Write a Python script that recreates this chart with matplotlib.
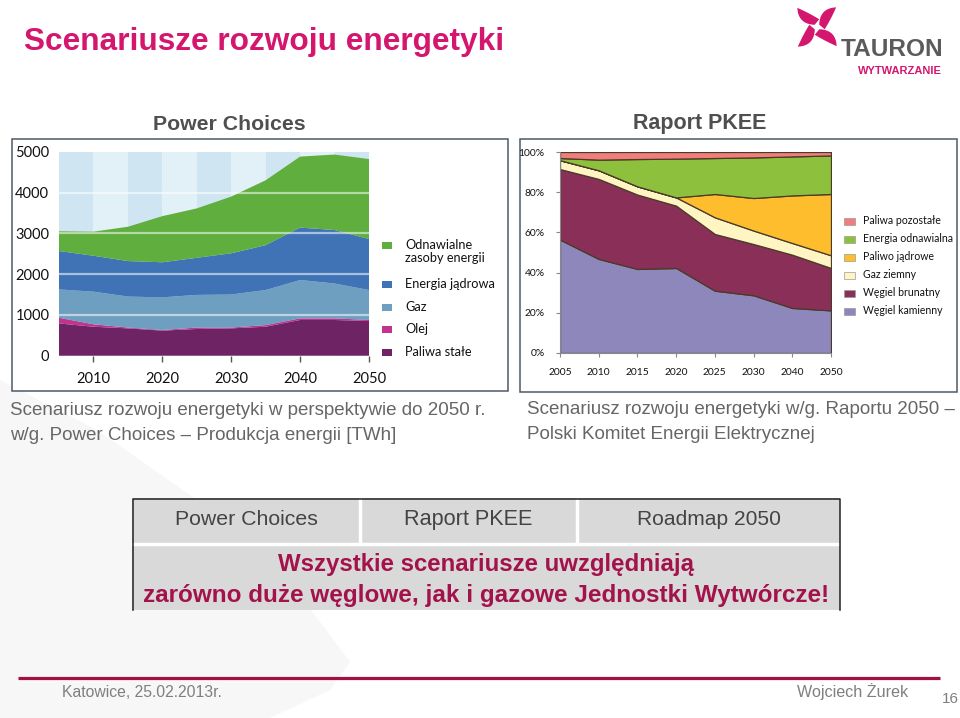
import numpy as np
import matplotlib
matplotlib.use('Agg')
import matplotlib.pyplot as plt
from matplotlib.patches import Rectangle, Polygon

# ---------------- data ----------------
pc_years = [2005, 2010, 2015, 2020, 2025, 2030, 2035, 2040, 2045, 2050]
pc_solid = [790, 710, 670, 615, 655, 670, 710, 875, 875, 850]
pc_oil = [140, 60, 20, 15, 35, 20, 40, 40, 40, 25]
pc_gas = [695, 800, 760, 800, 800, 810, 860, 940, 855, 735]
pc_nuclear = [940, 880, 870, 860, 910, 1010, 1100, 1285, 1310, 1250]
pc_renew = [485, 590, 840, 1130, 1210, 1390, 1590, 1740, 1850, 1960]
pc_labels = ['Odnawialne\nzasoby energii', 'Energia jądrowa', 'Gaz', 'Olej', 'Paliwa stałe']
pc_xticks = [2010, 2020, 2030, 2040, 2050]
pc_yticks = [0, 1000, 2000, 3000, 4000, 5000]

pk_years = ['2005', '2010', '2015', '2020', '2025', '2030', '2040', '2050']
pk_kamienny = [56.4, 46.8, 41.8, 42.3, 31.0, 28.7, 22.4, 21.2]
pk_brunatny = [35.1, 39.8, 37.0, 31.0, 28.2, 25.5, 26.5, 21.1]
pk_gaz = [4.4, 4.3, 4.1, 4.1, 8.3, 6.7, 5.8, 6.3]
pk_jadrowe = [0.0, 0.0, 0.0, 0.0, 11.6, 16.2, 23.7, 30.5]
pk_odnawialna = [1.1, 5.3, 13.6, 19.3, 17.9, 20.2, 19.4, 19.2]
pk_pozostale = [3.0, 3.8, 3.5, 3.3, 3.0, 2.7, 2.2, 1.7]
pk_labels = ['Paliwa pozostałe', 'Energia odnawialna', 'Paliwo jądrowe',
             'Gaz ziemny', 'Węgiel brunatny', 'Węgiel kamienny']
pk_yticks = [0, 20, 40, 60, 80, 100]

table_head = ['Power Choices', 'Raport PKEE', 'Roadmap 2050']
table_body = ['Wszystkie scenariusze uwzględniają',
              'zarówno duże węglowe, jak i gazowe Jednostki Wytwórcze!']

# ---------------- styles ----------------
W, H = 960, 718
ARIAL = ['Liberation Sans', 'DejaVu Sans']
NARROW = ['Liberation Sans Narrow', 'Liberation Sans', 'DejaVu Sans']
CAL = ['Lato', 'DejaVu Sans']
MAGENTA = '#D4166F'
pc_colors = ['#6E2464', '#C2338E', '#6E9FC0', '#3F73B6', '#5FAE3E']
pk_colors = ['#8E87BC', '#8A3058', '#FFF5C2', '#FDBD2D', '#8DC03C', '#F27E7C']

fig = plt.figure(figsize=(W / 100, H / 100), dpi=100)
fig.patch.set_facecolor('white')


def ax_px(x0, y0, x1, y1, z=2):
    return fig.add_axes([x0 / W, 1 - y1 / H, (x1 - x0) / W, (y1 - y0) / H], zorder=z)


ov = fig.add_axes([0, 0, 1, 1], zorder=0)
ov.set_xlim(0, W)
ov.set_ylim(H, 0)
ov.axis('off')

# faint watermark
ov.add_patch(Polygon([(0, 380), (12, 386), (100, 432), (200, 502), (290, 582), (350, 662),
                      (330, 690), (270, 718), (0, 718)], closed=True,
                     facecolor='#F7F7F7', edgecolor='none', zorder=0))

# ---------------- logo ----------------
def blade(cx, cy, ang, s):
    t = np.linspace(0, 1, 25)[:, None]
    P0 = np.array([0.05, 0.12]); P1 = np.array([-0.15, 0.75]); P2 = np.array([0.45, 1.0])
    Q1 = np.array([0.42, 0.5]); Q2 = np.array([0.32, 0.02])
    outer = (1 - t) ** 2 * P0 + 2 * (1 - t) * t * P1 + t ** 2 * P2
    inner = (1 - t) ** 2 * P2 + 2 * (1 - t) * t * Q1 + t ** 2 * Q2
    pts = np.vstack([outer, inner])
    a = np.deg2rad(ang)
    x = pts[:, 0] * np.cos(a) - pts[:, 1] * np.sin(a)
    y = pts[:, 0] * np.sin(a) + pts[:, 1] * np.cos(a)
    return np.column_stack([cx + s * x, cy - s * y])


for ang in (-20, 70, 160, 250):
    ov.add_patch(Polygon(blade(817, 27, ang, 25), closed=True, facecolor=MAGENTA,
                         edgecolor='none', zorder=2))

texts_fit = []
t = ov.text(841, 56, 'TAURON', family=ARIAL, weight='bold', color='#5B5B5B',
            fontsize=20, ha='left', va='baseline')
texts_fit.append((t, 102))
t = ov.text(858, 74, 'WYTWARZANIE', family=ARIAL, weight='bold', color=MAGENTA,
            fontsize=8, ha='left', va='baseline')
texts_fit.append((t, 84))

# ---------------- title & headings ----------------
t = ov.text(24, 50, 'Scenariusze rozwoju energetyki', family=ARIAL, weight='bold',
            color=MAGENTA, fontsize=20, ha='left', va='baseline')
texts_fit.append((t, 479))
t = ov.text(229, 129.5, 'Power Choices', family=ARIAL, weight='bold', color='#4F4F4F',
            fontsize=14, ha='center', va='baseline')
texts_fit.append((t, 152))
t = ov.text(700, 129.5, 'Raport PKEE', family=ARIAL, weight='bold', color='#4F4F4F',
            fontsize=14, ha='center', va='baseline')
texts_fit.append((t, 134))

# boxes
ov.add_patch(Rectangle((12, 139), 496, 252, facecolor='white', edgecolor='#4E5866', lw=1.1, zorder=1))
rbox = Rectangle((520, 139), 437, 253, facecolor='white', edgecolor='#4E5866', lw=1.1, zorder=1)
ov.add_patch(rbox)

# captions
cap_col = '#666666'
t = ov.text(10, 415, 'Scenariusz rozwoju energetyki w perspektywie do 2050 r.', family=ARIAL,
            color=cap_col, fontsize=13, ha='left', va='baseline')
texts_fit.append((t, 477))
t2 = ov.text(10, 440, 'w/g. Power Choices – Produkcja energii [TWh]', family=ARIAL,
             color=cap_col, fontsize=13, ha='left', va='baseline')
t = ov.text(527, 414, 'Scenariusz rozwoju energetyki w/g. Raportu 2050 –', family=ARIAL,
            color=cap_col, fontsize=13, ha='left', va='baseline')
texts_fit.append((t, 427))
t3 = ov.text(527, 439, 'Polski Komitet Energii Elektrycznej', family=ARIAL,
             color=cap_col, fontsize=13, ha='left', va='baseline')

# ---------------- left chart ----------------
axL = ax_px(59, 151.7, 369, 355.7)
axL.set_xlim(pc_years[0], pc_years[-1])
axL.set_ylim(0, 5000)
for i in range(len(pc_years) - 1):
    axL.axvspan(pc_years[i], pc_years[i + 1], color='#CFE5F1' if i % 2 == 0 else '#E2F0F8',
                lw=0, zorder=0)
axL.stackplot(pc_years, pc_solid, pc_oil, pc_gas, pc_nuclear, pc_renew,
              colors=pc_colors, lw=0, zorder=2)
for v in pc_yticks[1:-1]:
    axL.axhline(v, color='white', lw=1.6, alpha=0.55, zorder=3)
axL.set_xticks(pc_xticks)
axL.set_xticklabels([str(v) for v in pc_xticks])
axL.set_yticks(pc_yticks)
axL.set_yticklabels([str(v) for v in pc_yticks])
axL.tick_params(axis='x', length=4, width=1, color='#555555', pad=8, labelsize=10.5,
                labelcolor='#111111')
axL.tick_params(axis='y', length=0, pad=7, labelsize=10.5, labelcolor='#111111')
for lab in axL.get_xticklabels() + axL.get_yticklabels():
    lab.set_family(CAL)
for s in axL.spines.values():
    s.set_visible(False)

# left legend
leg_y = [245, 284, 307, 329, 352]
leg_cols = pc_colors[::-1]
for i, (lab, yy) in enumerate(zip(pc_labels, leg_y)):
    ov.add_patch(Rectangle((382, yy - 3.5), 10, 7, facecolor=leg_cols[i], edgecolor='none', zorder=2))
    ov.text(405, yy + 4, lab.split('\n')[0], family=CAL, fontsize=9.2, color='#111111',
            ha='left', va='baseline', zorder=2)
ov.text(405, leg_y[0] + 17, pc_labels[0].split('\n')[1], family=CAL, fontsize=9.2,
        color='#111111', ha='left', va='baseline', zorder=2)

# ---------------- right chart ----------------
axR = ax_px(560, 152, 831, 353)
xr = np.arange(len(pk_years))
axR.stackplot(xr, pk_kamienny, pk_brunatny, pk_gaz, pk_jadrowe, pk_odnawialna, pk_pozostale,
              colors=pk_colors, edgecolor='#4A3A28', lw=0.9, zorder=2)
axR.set_xlim(0, len(pk_years) - 1)
axR.set_ylim(0, 100)
axR.set_xticks(xr)
axR.set_xticklabels(pk_years)
axR.set_yticks(pk_yticks)
axR.set_yticklabels([f'{v}%' for v in pk_yticks])
axR.tick_params(axis='both', length=3, width=0.8, color='#888888', labelsize=7.4,
                labelcolor='#111111')
axR.tick_params(axis='y', pad=8)
axR.tick_params(axis='x', pad=8)
for lab in axR.get_xticklabels() + axR.get_yticklabels():
    lab.set_family(CAL)
for k in ('top', 'right'):
    axR.spines[k].set_visible(False)
for k in ('left', 'bottom'):
    axR.spines[k].set_color('#888888')
    axR.spines[k].set_linewidth(0.8)
axR.patch.set_alpha(0)

# right legend
rl_y = [221, 239, 257, 275, 293, 311]
rl_cols = pk_colors[::-1]
for lab, yy, c in zip(pk_labels, rl_y, rl_cols):
    ov.add_patch(Rectangle((844, yy - 3.5), 11, 7, facecolor=c, edgecolor='#9A9A9A', lw=0.5, zorder=2))
    tt = ov.text(863, yy + 3, lab, family=CAL, fontsize=7.6, color='#111111', ha='left',
                 va='baseline', zorder=2)
    tt.set_clip_path(rbox)

# ---------------- table ----------------
tab_x = [132, 360, 577, 840]
ov.add_patch(Rectangle((132, 498), 708, 112, facecolor='#D9D9D9', edgecolor='none', zorder=1))
ov.plot([132, 840], [543.5, 543.5], color='white', lw=2.5, zorder=2)
for xx in tab_x[1:-1]:
    ov.plot([xx, xx], [498, 543], color='white', lw=2.5, zorder=2)
ov.plot([132.5, 132.5, 839.5, 839.5], [610, 498.5, 498.5, 610], color='#222222', lw=1.1, zorder=3)
head_w = [144, 129, 145]
for i, (lab, w) in enumerate(zip(table_head, head_w)):
    t = ov.text((tab_x[i] + tab_x[i + 1]) / 2, 525, lab, family=ARIAL, fontsize=14,
                color='#444444', ha='center', va='baseline', zorder=3)
    texts_fit.append((t, w))
t = ov.text(486, 571, table_body[0], family=ARIAL, weight='bold', fontsize=15,
            color='#A3124A', ha='center', va='baseline', zorder=3)
texts_fit.append((t, 418))
t = ov.text(486, 602, table_body[1], family=ARIAL, weight='bold', fontsize=15,
            color='#A3124A', ha='center', va='baseline', zorder=3)
texts_fit.append((t, 688))

# ---------------- footer ----------------
ov.plot([18, 940], [678, 678], color='#A3123F', lw=2.3, solid_capstyle='butt', zorder=2)
t = ov.text(62, 697, 'Katowice, 25.02.2013r.', family=NARROW, fontsize=11, color='#7F7F7F',
            ha='left', va='baseline')
texts_fit.append((t, 160))
t = ov.text(908, 697, 'Wojciech Żurek', family=NARROW, fontsize=11, color='#7F7F7F',
            ha='right', va='baseline')
texts_fit.append((t, 111))
ov.text(950, 703, '16', family=NARROW, fontsize=11, color='#7F7F7F', ha='center', va='baseline')

# ---------------- fit text widths ----------------
fig.canvas.draw()
r = fig.canvas.get_renderer()
for tt, w in texts_fit:
    bb = tt.get_window_extent(renderer=r)
    tt.set_fontsize(tt.get_fontsize() * w / bb.width)
t2.set_fontsize(texts_fit[5][0].get_fontsize())
t3.set_fontsize(texts_fit[6][0].get_fontsize())

fig.savefig('out.png', dpi=100, facecolor='white')
